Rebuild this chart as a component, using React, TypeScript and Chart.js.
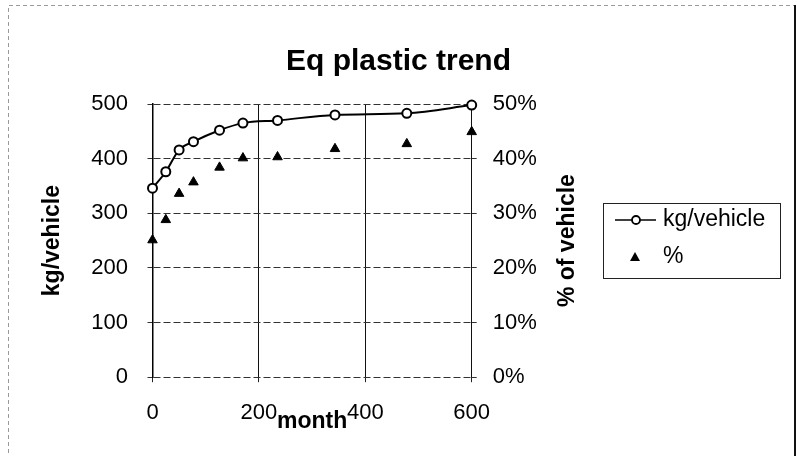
import React, { useEffect, useRef } from 'react';
import { Chart, registerables } from 'chart.js';

Chart.register(...registerables);

const chartTitle = 'Eq plastic trend';
const xAxisTitle = 'month';
const leftAxisTitle = 'kg/vehicle';
const rightAxisTitle = '% of vehicle';
const seriesLabels = ['kg/vehicle', '%'];

const months = [0, 25, 50, 77, 126, 170, 235, 343, 478, 600];
const kgPerVehicle = [346, 376, 416, 431, 452, 465, 470, 480, 483, 498];
const pctOfVehicle = [25.1, 28.8, 33.6, 35.7, 38.4, 40.1, 40.3, 41.8, 42.7, 44.9];

const xTickStep = 200;
const leftTickStep = 100;
const rightTickStep = 10;

const FONT = '"Liberation Sans", Arial, Helvetica, sans-serif';

const decorPlugin = {
  id: 'decor',
  beforeDraw(chart: any) {
    const ctx = chart.ctx;
    ctx.save();
    ctx.fillStyle = '#ffffff';
    ctx.fillRect(0, 0, chart.width, chart.height);
    ctx.restore();
  },
  afterDraw(chart: any) {
    const ctx = chart.ctx;
    const area = chart.chartArea;
    ctx.save();
    // outer frame
    ctx.strokeStyle = '#9a9a9a';
    ctx.lineWidth = 1;
    ctx.setLineDash([4, 3]);
    ctx.beginPath();
    ctx.moveTo(8.5, 460);
    ctx.lineTo(8.5, 5.5);
    ctx.lineTo(794, 5.5);
    ctx.stroke();
    ctx.setLineDash([]);
    ctx.strokeStyle = '#111';
    ctx.lineWidth = 2;
    ctx.beginPath();
    ctx.moveTo(795, 5);
    ctx.lineTo(795, 460);
    ctx.stroke();

    // right axis title (reads bottom to top)
    ctx.save();
    ctx.translate(568, (area.top + area.bottom) / 2);
    ctx.rotate(-Math.PI / 2);
    ctx.fillStyle = '#000';
    ctx.font = `bold 23px ${FONT}`;
    ctx.textAlign = 'center';
    ctx.textBaseline = 'middle';
    ctx.fillText(rightAxisTitle, 0, 0);
    ctx.restore();

    // legend box
    ctx.lineWidth = 1;
    ctx.strokeStyle = '#222';
    ctx.strokeRect(603.5, 203.5, 177, 75);

    // entry 1: line + circle
    ctx.strokeStyle = '#000';
    ctx.lineWidth = 1.5;
    ctx.beginPath();
    ctx.moveTo(615, 220);
    ctx.lineTo(656, 220);
    ctx.stroke();
    ctx.beginPath();
    ctx.arc(636, 220, 4, 0, Math.PI * 2);
    ctx.fillStyle = '#fff';
    ctx.fill();
    ctx.lineWidth = 1.8;
    ctx.stroke();

    // entry 2: triangle
    ctx.fillStyle = '#000';
    ctx.beginPath();
    ctx.moveTo(635, 252);
    ctx.lineTo(640, 261);
    ctx.lineTo(630, 261);
    ctx.closePath();
    ctx.fill();

    ctx.fillStyle = '#000';
    ctx.font = `23px ${FONT}`;
    ctx.textBaseline = 'middle';
    ctx.textAlign = 'left';
    ctx.fillText(seriesLabels[0], 663, 220);
    ctx.fillText(seriesLabels[1], 663, 257);
    ctx.restore();
  },
};

export default function App() {
  const canvasRef = useRef<HTMLCanvasElement | null>(null);

  useEffect(() => {
    if (!canvasRef.current) return;
    Chart.defaults.font.family = FONT;
    const chart = new Chart(canvasRef.current, {
      type: 'scatter',
      data: {
        datasets: [
          {
            label: seriesLabels[0],
            data: months.map((m, i) => ({ x: m, y: kgPerVehicle[i] })),
            yAxisID: 'y',
            showLine: true,
            borderColor: '#000',
            borderWidth: 2,
            cubicInterpolationMode: 'monotone',
            pointStyle: 'circle',
            pointRadius: 4.5,
            pointBackgroundColor: '#fff',
            pointBorderColor: '#000',
            pointBorderWidth: 2,
            clip: false,
          } as any,
          {
            label: seriesLabels[1],
            data: months.map((m, i) => ({ x: m, y: pctOfVehicle[i] })),
            yAxisID: 'y1',
            showLine: false,
            pointStyle: 'triangle',
            pointRadius: 5.5,
            pointBackgroundColor: '#000',
            pointBorderColor: '#000',
            pointBorderWidth: 1,
            clip: false,
          } as any,
        ],
      },
      options: {
        responsive: false,
        animation: false,
        layout: { padding: { left: 8, right: 8, top: 0, bottom: 21 } },
        plugins: {
          legend: { display: false },
          tooltip: { enabled: false },
          title: {
            display: true,
            text: chartTitle,
            color: '#000',
            font: { family: FONT, size: 30, weight: 'bold' },
            padding: { top: 44, bottom: 24 },
          },
        },
        scales: {
          x: {
            type: 'linear',
            position: 'bottom',
            min: 0,
            max: 600,
            ticks: { stepSize: xTickStep, color: '#000', font: { size: 22 }, padding: 18 },
            grid: { color: '#111', lineWidth: 1, tickLength: 5, tickColor: '#222' },
            border: { display: false },
            title: {
              display: true,
              text: xAxisTitle,
              color: '#000',
              font: { size: 23, weight: 'bold' },
              padding: 0,
            },
            afterFit(s: any) {
              s.height = 57.8;
            },
          },
          y: {
            type: 'linear',
            position: 'left',
            min: 0,
            max: 500,
            ticks: { stepSize: leftTickStep, color: '#000', font: { size: 22 }, padding: 19.5 },
            grid: { color: '#333', lineWidth: 1, tickLength: 5, tickColor: '#333' },
            border: { display: true, color: '#000', width: 1.5, dash: [7, 3] },
            title: {
              display: true,
              text: leftAxisTitle,
              color: '#000',
              font: { size: 23, weight: 'bold' },
              padding: { top: 31.2, bottom: 0 },
            },
            afterFit(s: any) {
              s.width = 144.5;
            },
          },
          y1: {
            type: 'linear',
            position: 'right',
            min: 0,
            max: 50,
            ticks: {
              stepSize: rightTickStep,
              color: '#000',
              font: { size: 22 },
              padding: 16,
              callback: (v: any) => `${v}%`,
            },
            grid: { drawOnChartArea: false, tickLength: 5, color: '#333' },
            border: { display: false },
            title: { display: false },
            afterFit(s: any) {
              s.width = 317.3;
            },
          },
        },
      } as any,
      plugins: [decorPlugin],
    });
    return () => chart.destroy();
  }, []);

  return (
    <div style={{ position: 'absolute', left: 0, top: 0, width: 797, height: 456, background: '#fff' }}>
      <canvas ref={canvasRef} width={797} height={456} style={{ display: 'block' }} />
    </div>
  );
}
